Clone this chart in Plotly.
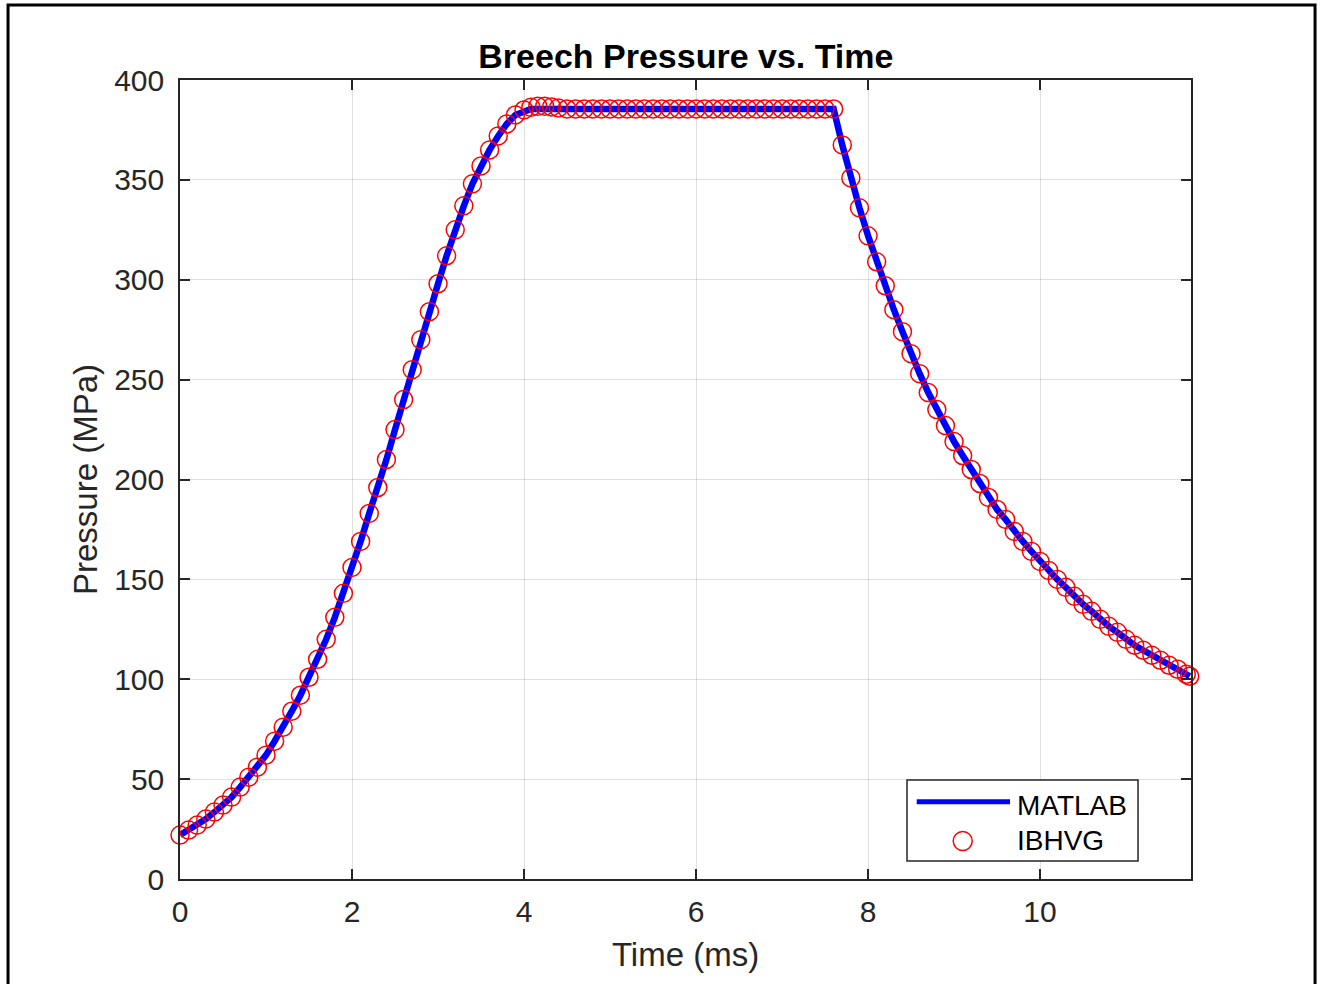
import plotly.graph_objects as go

# ---------------- data ----------------
time_ms = [
    0.0, 0.1, 0.2, 0.3, 0.4, 0.5, 0.6, 0.7, 0.8, 0.9,
    1.0, 1.1, 1.2, 1.3, 1.4, 1.5, 1.6, 1.7, 1.8, 1.9,
    2.0, 2.1, 2.2, 2.3, 2.4, 2.5, 2.6, 2.7, 2.8, 2.9,
    3.0, 3.1, 3.2, 3.3, 3.4, 3.5, 3.6, 3.7, 3.8, 3.9,
    4.0, 4.08, 4.16, 4.24, 4.32, 4.40,
    4.5, 4.6, 4.7, 4.8, 4.9, 5.0, 5.1, 5.2, 5.3, 5.4,
    5.5, 5.6, 5.7, 5.8, 5.9, 6.0, 6.1, 6.2, 6.3, 6.4,
    6.5, 6.6, 6.7, 6.8, 6.9, 7.0, 7.1, 7.2, 7.3, 7.4,
    7.5, 7.6,
    7.7, 7.8, 7.9, 8.0, 8.1, 8.2, 8.3, 8.4, 8.5, 8.6,
    8.7, 8.8, 8.9, 9.0, 9.1, 9.2, 9.3, 9.4, 9.5, 9.6,
    9.7, 9.8, 9.9, 10.0, 10.1, 10.2, 10.3, 10.4, 10.5, 10.6,
    10.7, 10.8, 10.9, 11.0, 11.1, 11.2, 11.3, 11.4, 11.5, 11.6,
    11.7, 11.74,
]

matlab_mpa = [
    22, 24.5, 27, 30, 33.5, 37, 41, 46, 51, 56,
    62, 69, 76, 84, 92, 101, 110, 120, 131, 143,
    156, 169, 183, 196, 210, 225, 240, 255, 270, 284,
    298, 312, 325, 337, 348, 357, 365, 372, 378, 382.5,
    384.5, 385.5, 385.5, 385.5, 385.5, 385.5,
    385.5, 385.5, 385.5, 385.5, 385.5, 385.5, 385.5, 385.5, 385.5, 385.5,
    385.5, 385.5, 385.5, 385.5, 385.5, 385.5, 385.5, 385.5, 385.5, 385.5,
    385.5, 385.5, 385.5, 385.5, 385.5, 385.5, 385.5, 385.5, 385.5, 385.5,
    385.5, 385.5,
    367.5, 351, 336, 322, 309, 297, 285, 274, 263, 253,
    243.5, 235, 227, 219, 212, 205, 198, 191, 185, 180,
    174, 169, 164, 159, 154.5, 150, 146, 141.5, 137.5, 134,
    130, 126.5, 123.5, 120, 117, 114.5, 112, 109.5, 107, 105,
    102.5, 101.5,
]

ibhvg_mpa = [
    22, 24.5, 27, 30, 33.5, 37, 41, 46, 51, 56,
    62, 69, 76, 84, 92, 101, 110, 120, 131, 143,
    156, 169, 183, 196, 210, 225, 240, 255, 270, 284,
    298, 312, 325, 337, 348, 357, 365, 372, 378, 382.5,
    385, 386.3, 386.8, 386.8, 386.5, 386,
    385.5, 385.5, 385.5, 385.5, 385.5, 385.5, 385.5, 385.5, 385.5, 385.5,
    385.5, 385.5, 385.5, 385.5, 385.5, 385.5, 385.5, 385.5, 385.5, 385.5,
    385.5, 385.5, 385.5, 385.5, 385.5, 385.5, 385.5, 385.5, 385.5, 385.5,
    385.5, 385.5,
    367.5, 351, 336, 322, 309, 297, 285, 274, 263, 253,
    243.5, 235, 227, 219, 212, 205, 198, 191, 185, 180,
    174, 169, 164, 159, 154.5, 150, 146, 141.5, 137.5, 134,
    130, 126.5, 123.5, 120, 117, 114.5, 112, 109.5, 107, 105,
    102.5, 101.5,
]

x_ticks = [0, 2, 4, 6, 8, 10]
y_ticks = [0, 50, 100, 150, 200, 250, 300, 350, 400]
series_names = ["MATLAB", "IBHVG"]

title_text = "Breech Pressure vs. Time"
x_label = "Time (ms)"
y_label = "Pressure (MPa)"

# ---------------- styling ----------------
FONT = "Liberation Sans, Arial, Helvetica, sans-serif"
AX = "#262626"
GRID = "rgba(38,38,38,0.15)"

fig = go.Figure()
fig.add_trace(go.Scatter(
    x=time_ms, y=matlab_mpa, name=series_names[0], mode="lines",
    line=dict(color="#0000ff", width=6.5), showlegend=False,
))
fig.add_trace(go.Scatter(
    x=time_ms, y=ibhvg_mpa, name=series_names[1], mode="markers",
    marker=dict(symbol="circle-open", size=18, color="#ff0000",
                line=dict(color="#ff0000", width=1.5)),
    cliponaxis=False, showlegend=False,
))

axis_common = dict(
    showline=True, linecolor=AX, linewidth=1.5, mirror="ticks",
    ticks="inside", ticklen=10, tickwidth=1.5, tickcolor=AX,
    showgrid=True, gridcolor=GRID, gridwidth=1, zeroline=False,
    tickfont=dict(family=FONT, size=30, color=AX),
)

fig.update_xaxes(
    range=[0, 11.755], tickvals=x_ticks, ticktext=[str(v) for v in x_ticks],
    title=dict(text=x_label, font=dict(family=FONT, size=33, color=AX), standoff=16),
    ticklabelstandoff=5,
    **axis_common,
)
fig.update_yaxes(
    range=[0, 400], tickvals=y_ticks, ticktext=[str(v) for v in y_ticks],
    title=dict(text=y_label, font=dict(family=FONT, size=33, color=AX), standoff=7),
    ticklabelstandoff=8,
    **axis_common,
)

# legend drawn as a MATLAB-style box
L_X0, L_X1, L_Y0, L_Y1 = 0.7191, 0.9476, 0.0225, 0.1239
shapes = [
    # outer figure frame
    dict(type="rect", xref="paper", yref="paper", x0=-0.1701, x1=1.1227,
         y0=-0.14, y1=1.0939, line=dict(color="black", width=3), layer="above"),
    # legend box
    dict(type="rect", xref="paper", yref="paper", x0=L_X0, x1=L_X1, y0=L_Y0, y1=L_Y1,
         line=dict(color=AX, width=1.5), fillcolor="white", layer="above"),
    # MATLAB line sample
    dict(type="line", xref="paper", yref="paper", x0=0.7287, x1=0.8210,
         y0=0.0968, y1=0.0968, line=dict(color="#0000ff", width=5), layer="above"),
    # IBHVG circle sample
    dict(type="circle", xref="paper", yref="paper", xsizemode="pixel", ysizemode="pixel",
         xanchor=0.7742, yanchor=0.0475, x0=-9.5, x1=9.5, y0=-9.5, y1=9.5,
         line=dict(color="#ff0000", width=1.5), layer="above"),
]
annotations = [
    dict(text=series_names[0], xref="paper", yref="paper", x=0.8257, y=0.0926,
         xanchor="left", yanchor="middle", showarrow=False,
         font=dict(family=FONT, size=28, color="black")),
    dict(text=series_names[1], xref="paper", yref="paper", x=0.8257, y=0.0488,
         xanchor="left", yanchor="middle", showarrow=False,
         font=dict(family=FONT, size=28, color="black")),
]

fig.update_layout(
    width=1320, height=984,
    margin=dict(l=180, r=129, t=80, b=105),
    paper_bgcolor="white", plot_bgcolor="white",
    title=dict(text="<b>" + title_text + "</b>", x=0.5196, xanchor="center",
               y=1 - 56 / 984, yanchor="middle", yref="container",
               font=dict(family=FONT, size=34, color="black")),
    showlegend=False,
    shapes=shapes,
    annotations=annotations,
)

fig.write_html("out.html", config={"displayModeBar": False},
               post_script="document.body.style.margin='0';")
